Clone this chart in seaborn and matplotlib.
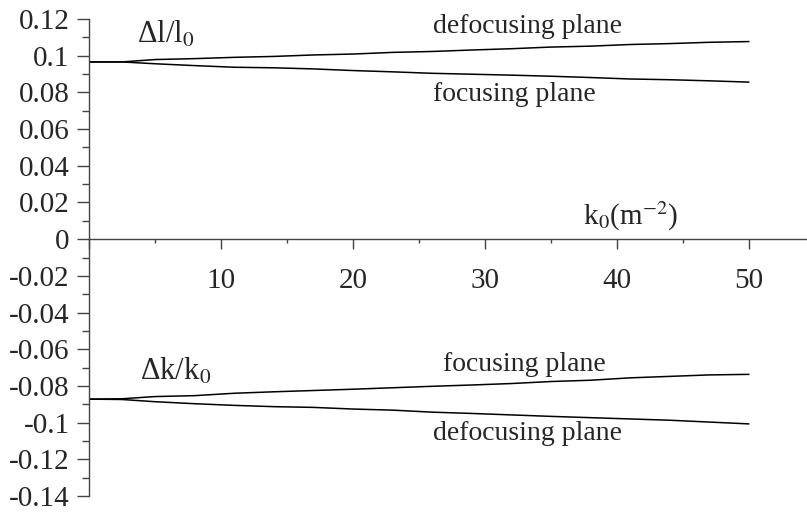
import numpy as np
import pandas as pd
import matplotlib
matplotlib.use("Agg")
import matplotlib.pyplot as plt
import seaborn as sns
from matplotlib.ticker import MultipleLocator, FuncFormatter

# k0 sample points (m^-2)
k0 = [0, 2.5, 5, 8, 11, 14, 17, 20, 23, 26, 29, 32, 35, 38, 41, 44, 47, 50]

# relative length change
dl_defocusing = [0.0966, 0.0966, 0.0979, 0.0984, 0.0991, 0.0996, 0.1004, 0.1009, 0.1018,
                 0.1023, 0.1031, 0.1038, 0.1047, 0.1052, 0.1061, 0.1066, 0.1073, 0.1077]
dl_focusing = [0.0966, 0.0966, 0.0956, 0.0946, 0.0937, 0.0934, 0.0928, 0.0919, 0.0912,
               0.0904, 0.0899, 0.0894, 0.0888, 0.0881, 0.0873, 0.0869, 0.0863, 0.0856]

# relative gradient change
dk_focusing = [-0.0872, -0.0870, -0.0858, -0.0853, -0.0840, -0.0832, -0.0825, -0.0818, -0.0810,
               -0.0802, -0.0795, -0.0787, -0.0776, -0.0769, -0.0756, -0.0748, -0.0740, -0.0737]
dk_defocusing = [-0.0872, -0.0874, -0.0886, -0.0897, -0.0906, -0.0913, -0.0917, -0.0926, -0.0932,
                 -0.0943, -0.0950, -0.0958, -0.0966, -0.0973, -0.0980, -0.0987, -0.0997, -0.1007]

series = {
    "dl_defocusing": dl_defocusing,
    "dl_focusing": dl_focusing,
    "dk_focusing": dk_focusing,
    "dk_defocusing": dk_defocusing,
}
df = pd.concat(
    [pd.DataFrame({"k0": k0, "value": v, "series": name}) for name, v in series.items()],
    ignore_index=True,
)

sns.set_style("ticks")
plt.rcParams["font.family"] = ["Liberation Serif", "DejaVu Serif"]
plt.rcParams["mathtext.fontset"] = "stix"
plt.rcParams["axes.unicode_minus"] = False

fig = plt.figure(figsize=(8.07, 5.12), dpi=100)
ax = fig.add_axes([89 / 807, 16 / 512, 718 / 807, 477 / 512])

sns.lineplot(data=df, x="k0", y="value", units="series", estimator=None,
             color="black", linewidth=1.1, ax=ax)

ax.set_xlim(0, 54.4)
ax.set_ylim(-0.14, 0.12)
ax.set_xlabel("")
ax.set_ylabel("")

# axis frame: left spine plus x axis through zero
ax.spines["top"].set_visible(False)
ax.spines["right"].set_visible(False)
ax.spines["bottom"].set_position(("data", 0))
for s in ("left", "bottom"):
    ax.spines[s].set_color("#444444")
    ax.spines[s].set_linewidth(1.0)

ax.xaxis.set_major_locator(MultipleLocator(10))
ax.xaxis.set_minor_locator(MultipleLocator(5))
ax.yaxis.set_major_locator(MultipleLocator(0.02))
ax.yaxis.set_minor_locator(MultipleLocator(0.01))
ax.xaxis.set_major_formatter(FuncFormatter(lambda v, p: "" if v == 0 else f"{v:g}"))
ax.yaxis.set_major_formatter(FuncFormatter(lambda v, p: f"{round(v, 3):g}"))

ax.tick_params(axis="x", which="major", bottom=True, direction="out", length=7, width=1,
               color="#444444", pad=14, labelsize=21)
ax.tick_params(axis="x", which="minor", bottom=True, direction="out", length=3, width=1,
               color="#444444")
ax.tick_params(axis="y", which="major", left=True, direction="out", length=9, width=1,
               color="#444444", pad=5, labelsize=21)
ax.tick_params(axis="y", which="minor", left=True, direction="out", length=5, width=1,
               color="#444444")
ax.grid(False)

# annotations
ax.text(3.6, 0.1114, r"Δl/l$_0$", fontsize=22, ha="left", va="center")
ax.text(26.1, 0.1157, "defocusing plane", fontsize=20, ha="left", va="center")
ax.text(26.1, 0.0789, "focusing plane", fontsize=20, ha="left", va="center")
ax.text(37.4, 0.0122, r"k$_0$(m$^{-2}$)", fontsize=21, ha="left", va="center")
ax.text(3.9, -0.0724, r"Δk/k$_0$", fontsize=22, ha="left", va="center")
ax.text(26.8, -0.0681, "focusing plane", fontsize=20, ha="left", va="center")
ax.text(26.1, -0.1059, "defocusing plane", fontsize=20, ha="left", va="center")

fig.savefig("out.png", dpi=100)
